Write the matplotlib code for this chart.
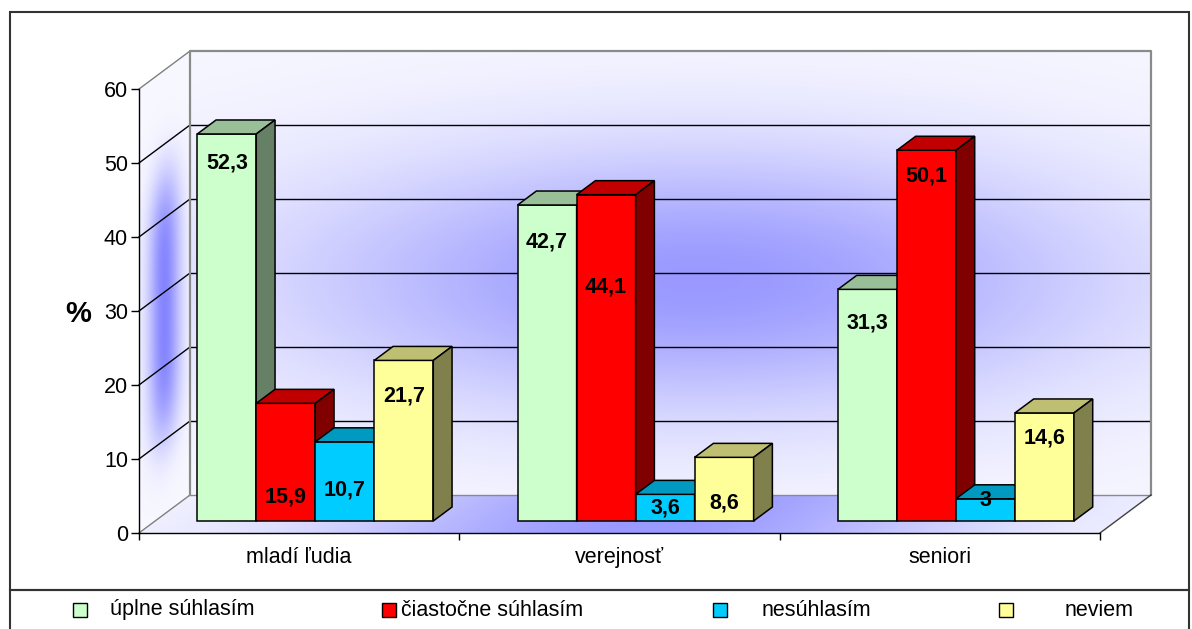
import numpy as np
import matplotlib
matplotlib.use('Agg')
import matplotlib.pyplot as plt
from matplotlib.patches import Polygon, Rectangle

plt.rcParams['font.family'] = ['Liberation Sans', 'DejaVu Sans']

# ---------------- data ----------------
categories = ['mladí ľudia', 'verejnosť', 'seniori']
series_names = ['úplne súhlasím', 'čiastočne súhlasím', 'nesúhlasím', 'neviem']
uplne = [52.3, 42.7, 31.3]
ciastocne = [15.9, 44.1, 50.1]
nesuhlasim = [10.7, 3.6, 3.0]
neviem = [21.7, 8.6, 14.6]
y_ticks = [0, 10, 20, 30, 40, 50, 60]

values = [uplne, ciastocne, nesuhlasim, neviem]

# ---------------- style ----------------
front_colors = ['#CCFFCC', '#FF0000', '#00CCFF', '#FFFF99']
top_colors = ['#99BF99', '#C00000', '#0099BF', '#BFBF73']
side_colors = ['#668066', '#800000', '#006680', '#80804D']
# vertical placement of value labels below bar top (value units), [series][category]
label_drop = [[3.9, 5.0, 4.5], [12.7, 12.5, 3.5], [6.5, 1.8, 0.2], [4.8, 6.2, 3.4]]

W, H = 1192, 629
fig = plt.figure(figsize=(W / 100, H / 100), dpi=100)
fig.patch.set_facecolor('white')

x0_px, y0_px = 139, 533
cat_px = 320.33
val_px = 7.4
DX = 51 / cat_px
DY = 38 / val_px
ymax = 60
ncat = len(categories)

ax = fig.add_axes([x0_px / W, (H - y0_px) / H, (ncat + DX) * cat_px / W, (ymax + DY) * val_px / H])
ax.patch.set_alpha(0)


def mix(a, base, peak):
    a = a[..., None]
    return np.array(base) * (1 - a) + np.array(peak) * a


def glow(pts, extent, func, z=0.5):
    xs = np.linspace(extent[0], extent[1], 400)
    ys = np.linspace(extent[2], extent[3], 300)
    X, Y = np.meshgrid(xs, ys)
    rgb = np.clip(func(X, Y), 0, 1)
    im = ax.imshow(rgb, extent=extent, origin='lower', aspect='auto', zorder=z,
                   interpolation='bilinear')
    clip = Polygon(pts, closed=True, transform=ax.transData, fc='none', ec='none')
    im.set_clip_path(clip)


base = (0.97, 0.97, 1.0)
# back wall
glow([(DX, DY), (ncat + DX, DY), (ncat + DX, ymax + DY), (DX, ymax + DY)],
     (DX, ncat + DX, DY, ymax + DY),
     lambda X, Y: mix(np.exp(-((X - 1.75) / 1.3) ** 2 - ((Y - (29 + DY)) / 18) ** 2),
                      base, (0.6, 0.6, 1.0)))
# left wall
def left_fun(X, Y):
    u = X / DX
    w = Y - u * DY
    a = np.exp(-((u - 0.5) / 0.32) ** 2) * np.exp(-((w - 28) / 18) ** 4)
    return mix(a, base, (0.52, 0.52, 1.0))
glow([(0, 0), (DX, DY), (DX, ymax + DY), (0, ymax)], (0, DX, 0, ymax + DY), left_fun)
# floor
def floor_fun(X, Y):
    u = Y / DY
    a = np.exp(-((X - u * DX - 1.55) / 1.0) ** 2)
    return mix(a, base, (0.6, 0.6, 1.0))
glow([(0, 0), (ncat, 0), (ncat + DX, DY), (DX, DY)], (0, ncat + DX, 0, DY), floor_fun)

# gridlines and walls
for v in y_ticks:
    c = '#808080' if v in (0, 60) else 'black'
    ax.plot([0, DX], [v, v + DY], color=c, lw=1, zorder=1, clip_on=False)
    if 0 < v < ymax:
        ax.plot([DX, ncat + DX], [v + DY, v + DY], color='black', lw=1, zorder=1)
ax.plot([DX, DX, ncat + DX, ncat + DX], [DY, ymax + DY, ymax + DY, DY], color='#8a8a8a',
        lw=1.6, zorder=1, clip_on=False)
ax.plot([DX, ncat + DX], [DY, DY], color='#8a8a8a', lw=1, zorder=1)
ax.plot([ncat, ncat + DX], [0, DY], color='#404040', lw=1, zorder=1, clip_on=False)

# bars
nser = len(values)
bw = 59 / cat_px
f0, f1 = 0.316, 0.684
bx, by = f0 * DX, f0 * DY
ddx, ddy = (f1 - f0) * DX, (f1 - f0) * DY
cat_x = np.arange(ncat) + 0.5
for j, vals in enumerate(values):
    lefts = cat_x - nser * bw / 2 + j * bw + bx
    ax.bar(lefts, vals, width=bw, bottom=by, align='edge', color=front_colors[j],
           edgecolor='black', lw=1.1, zorder=3 + 3 * j)
    for i, v in enumerate(vals):
        xl = lefts[i]
        xr = xl + bw
        yt = by + v
        ax.add_patch(Polygon([(xl, yt), (xr, yt), (xr + ddx, yt + ddy), (xl + ddx, yt + ddy)],
                             closed=True, fc=top_colors[j], ec='black', lw=1.1, zorder=4 + 3 * j))
        ax.add_patch(Polygon([(xr, by), (xr, yt), (xr + ddx, yt + ddy), (xr + ddx, by + ddy)],
                             closed=True, fc=side_colors[j], ec='black', lw=1.1, zorder=5 + 3 * j))
        ax.text(xl + bw / 2, yt - label_drop[j][i], f'{v:g}'.replace('.', ','), ha='center',
                va='center', fontsize=15.5, fontweight='bold', zorder=30)

# axes
ax.set_xlim(0, ncat + DX)
ax.set_ylim(0, ymax + DY)
ax.spines['top'].set_visible(False)
ax.spines['right'].set_visible(False)
ax.spines['left'].set_bounds(0, ymax)
ax.spines['bottom'].set_bounds(0, ncat)
ax.spines['left'].set_linewidth(1)
ax.spines['bottom'].set_linewidth(1)
ax.set_yticks(y_ticks)
ax.set_yticklabels([str(t) for t in y_ticks])
ax.tick_params(axis='y', length=6, width=1, pad=2, labelsize=15.5)
ax.set_xticks(np.arange(ncat + 1))
ax.set_xticklabels([])
ax.set_xticks(cat_x, minor=True)
ax.set_xticklabels(categories, minor=True, fontsize=15.5)
ax.tick_params(axis='x', which='major', length=5, width=1)
ax.tick_params(axis='x', which='minor', length=0, pad=10)

fig.text(78 / W, 1 - 314 / H, '%', ha='center', va='center', fontsize=21, fontweight='bold')

# frames
fig.add_artist(Rectangle((10 / W, (H - 590) / H), (1189 - 10) / W, (590 - 12) / H,
                         transform=fig.transFigure, fill=False, ec='#333333', lw=1.5))
fig.add_artist(Rectangle((10 / W, -0.05), (1189 - 10) / W, (H - 590) / H + 0.05,
                         transform=fig.transFigure, fill=False, ec='#333333', lw=1.5))

# legend
leg_marker_x = [73, 382, 713, 999]
leg_text_x = [110, 401, 762, 1065]
leg_y = 610
for j, name in enumerate(series_names):
    fig.add_artist(Rectangle((leg_marker_x[j] / W, 1 - (leg_y + 7) / H), 14 / W, 14 / H,
                             transform=fig.transFigure, fc=front_colors[j], ec='black', lw=1))
    fig.text(leg_text_x[j] / W, 1 - leg_y / H, name, ha='left', va='center', fontsize=15.5)

fig.savefig('out.png', dpi=100)
